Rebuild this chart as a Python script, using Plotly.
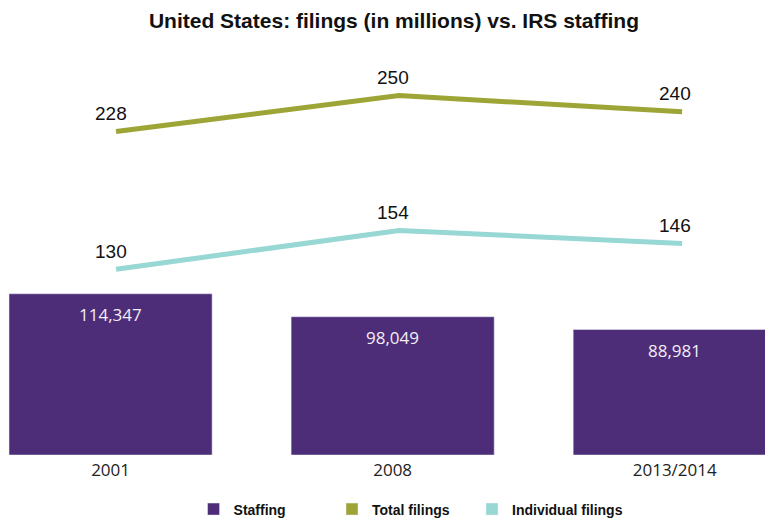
import plotly.graph_objects as go

years = ["2001", "2008", "2013/2014"]
staffing = [114347, 98049, 88981]
total_filings = [228, 250, 240]
individual_filings = [130, 154, 146]

c_staff = "#4d2c78"
c_total = "#9da537"
c_indiv = "#97d7d4"

fig = go.Figure()
fig.add_trace(go.Bar(x=years, y=staffing, name="Staffing", marker_color=c_staff,
                     width=0.72, showlegend=False, hoverinfo="skip"))
fig.add_trace(go.Scatter(x=years, y=total_filings, mode="lines", xaxis="x2", yaxis="y2",
                         line=dict(color=c_total, width=5), showlegend=False))
fig.add_trace(go.Scatter(x=years, y=individual_filings, mode="lines", xaxis="x2", yaxis="y3",
                         line=dict(color=c_indiv, width=5), showlegend=False))
# legend swatches (one legend each, to reproduce the spacing)
for nm, col, lg in [("Staffing", c_staff, "legend"), ("Total filings", c_total, "legend2"),
                    ("Individual filings", c_indiv, "legend3")]:
    fig.add_trace(go.Bar(x=[years[0]], y=[None], name=nm, marker_color=col,
                         showlegend=True, legend=lg))

ann = []
for i, v in enumerate(staffing):
    ann.append(dict(x=i, y=v, xref="x", yref="y", text=f"{v:,}", showarrow=False,
                    yshift=-21, font=dict(family="Open Sans", size=17, color="#f2eef6")))
for i, v in enumerate(total_filings):
    ann.append(dict(x=i, y=v, xref="x", yref="y2", text=str(v), showarrow=False,
                    yshift=18, font=dict(family="Liberation Sans", size=19, color="#111111")))
for i, v in enumerate(individual_filings):
    ann.append(dict(x=i, y=v, xref="x", yref="y3", text=str(v), showarrow=False,
                    yshift=18, font=dict(family="Liberation Sans", size=19, color="#111111")))

legfont = dict(family="Liberation Sans", size=14, color="#111111", weight="bold")
legcommon = dict(orientation="h", xanchor="left", y=-0.095, yanchor="top", font=legfont,
                 itemclick=False, itemdoubleclick=False, bgcolor="rgba(0,0,0,0)")

fig.update_layout(
    width=765, height=518,
    margin=dict(l=0, r=0, t=50, b=63, autoexpand=False),
    plot_bgcolor="white", paper_bgcolor="white",
    barmode="overlay",
    title=dict(text="<b>United States: filings (in millions) vs. IRS staffing</b>",
               x=0.515, xanchor="center", y=0.96, yanchor="middle",
               font=dict(family="Liberation Sans", size=21, color="#111111")),
    xaxis=dict(type="category", range=[-0.392, 2.32], showgrid=False, zeroline=False,
               showline=False, ticks="", ticklabelstandoff=3,
               tickfont=dict(family="Open Sans", size=17, color="#222222")),
    xaxis2=dict(type="category", range=[-0.41, 2.293], overlaying="x", visible=False),
    yaxis=dict(range=[0, 287234], visible=False),
    yaxis2=dict(range=[29.8, 277.9], overlaying="y", visible=False),
    yaxis3=dict(range=[15.04, 265.7], overlaying="y", visible=False),
    annotations=ann,
    showlegend=True,
    legend=dict(x=0.253, **legcommon),
    legend2=dict(x=0.434, **legcommon),
    legend3=dict(x=0.617, **legcommon),
)

fig.write_html("out.html")
